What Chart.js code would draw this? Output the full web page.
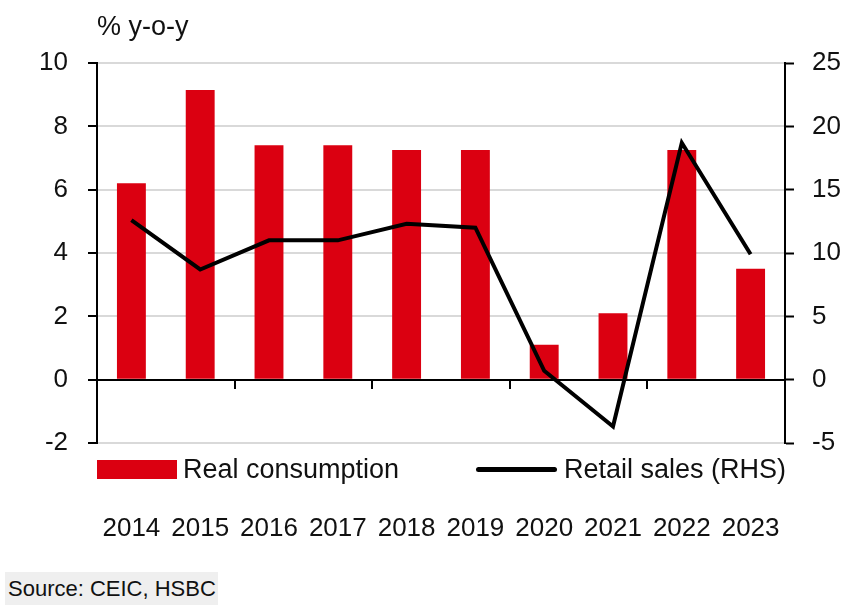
<!DOCTYPE html>
<html>
<head>
<meta charset="utf-8">
<script src="https://cdn.jsdelivr.net/npm/chart.js@4"></script>
<style>
  body { margin: 0; background: #fff; font-family: 'Liberation Sans', Arial, sans-serif; }
  #wrap { position: relative; width: 851px; height: 611px; }
  #c { position: absolute; left: 0; top: 0; }
  .txt { position: absolute; color: #111; font-size: 27px; white-space: nowrap; line-height: 1; }
  #title { left: 97px; top: 13px; }
  .swatch { position: absolute; }
  #source { position: absolute; left: 5px; top: 572px; width: 213px; height: 33px; background: #efefef;
            font-size: 22px; line-height: 33px; padding-left: 3px; box-sizing: border-box; color: #111; }
</style>
</head>
<body>
<div id="wrap">
  <canvas id="c" width="851" height="611"></canvas>
  <div class="txt" id="title">% y-o-y</div>
  <div class="swatch" style="left:97px;top:460px;width:80px;height:19px;background:#db0011"></div>
  <div class="txt" style="left:183px;top:456px">Real consumption</div>
  <div class="swatch" style="left:476px;top:467px;width:81px;height:5px;background:#000;border-radius:3px"></div>
  <div class="txt" style="left:564px;top:456px">Retail sales (RHS)</div>
  <div id="source">Source: CEIC, HSBC</div>
</div>
<script>
// ── Datos ───────────────────────────────
const YEARS       = ['2014','2015','2016','2017','2018','2019','2020','2021','2022','2023'];
const CONSUMPTION = [6.2, 9.15, 7.4, 7.4, 7.25, 7.25, 1.1, 2.1, 7.25, 3.5];
const RETAIL      = [12.6, 8.7, 11.0, 11.0, 12.3, 12.0, 0.7, -3.7, 18.7, 9.9];

const RED  = '#db0011';
const GRID = '#d9d9d9';
const FONT = { family: "'Liberation Sans', Arial, sans-serif", size: 26 };

// línea de cero con marcas cada dos años
const zeroAxis = {
  id: 'zeroAxis',
  afterDatasetsDraw(chart) {
    const { ctx, chartArea, scales } = chart;
    const y0 = Math.round(scales.y.getPixelForValue(0));
    ctx.save();
    ctx.strokeStyle = '#000';
    ctx.lineWidth = 2;
    ctx.beginPath();
    ctx.moveTo(chartArea.left, y0);
    ctx.lineTo(chartArea.right, y0);
    for (let i = 1; i < YEARS.length - 1; i += 2) {
      const x = Math.round((scales.x.getPixelForValue(i) + scales.x.getPixelForValue(i + 1)) / 2);
      ctx.moveTo(x, y0);
      ctx.lineTo(x, y0 + 9);
    }
    ctx.stroke();
    ctx.restore();
  }
};

new Chart(document.getElementById('c').getContext('2d'), {
  type: 'bar',
  data: {
    labels: YEARS,
    datasets: [
      {
        type: 'line',
        label: 'Retail sales (RHS)',
        data: RETAIL,
        yAxisID: 'y2',
        borderColor: '#000', borderWidth: 4,
        pointRadius: 0, tension: 0, fill: false,
        order: 0,
      },
      {
        label: 'Real consumption',
        data: CONSUMPTION,
        yAxisID: 'y',
        backgroundColor: RED,
        barPercentage: 0.42, categoryPercentage: 1,
        order: 1,
      }
    ]
  },
  options: {
    responsive: false, animation: false,
    layout: { padding: { top: 63, left: 0, right: 0, bottom: 0 } },
    plugins: { legend: { display: false }, tooltip: { enabled: false } },
    scales: {
      x: {
        grid: { display: false }, border: { display: false },
        ticks: { color: '#111', font: FONT, padding: 62, maxRotation: 0, autoSkip: false },
        afterFit: s => { s.height = 611 - 443; }
      },
      y: {
        position: 'left', min: -2, max: 10,
        ticks: { stepSize: 2, color: '#111', font: FONT, padding: 20 },
        grid: { color: GRID, lineWidth: 2, tickColor: '#000', tickLength: 9, tickWidth: 2 },
        border: { color: '#000', width: 2 },
        afterFit: s => { s.width = 97; }
      },
      y2: {
        position: 'right', min: -5, max: 25,
        ticks: { stepSize: 5, color: '#111', font: FONT, padding: 18 },
        grid: { drawOnChartArea: false, tickColor: '#000', tickLength: 9, tickWidth: 2 },
        border: { color: '#000', width: 2 },
        afterFit: s => { s.width = 851 - 785; }
      }
    }
  },
  plugins: [zeroAxis]
});
</script>
</body>
</html>
